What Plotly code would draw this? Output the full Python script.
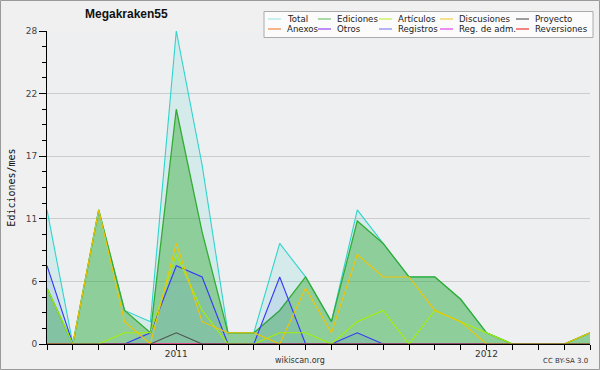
import plotly.graph_objects as go

# ---------------- data ----------------
months = ['2010-08', '2010-09', '2010-10', '2010-11', '2010-12', '2011-01', '2011-02',
          '2011-03', '2011-04', '2011-05', '2011-06', '2011-07', '2011-08', '2011-09',
          '2011-10', '2011-11', '2011-12', '2012-01', '2012-02', '2012-03', '2012-04',
          '2012-05']
tick_text = ['' if not m.endswith('-01') else m[:4] for m in months]

total       = [12, 0, 12, 3, 2, 28, 16, 1, 1, 9, 6, 2, 12, 9, 6, 6, 4, 1, 0, 0, 0, 1]
ediciones   = [5, 0, 12, 3, 1, 21, 10, 1, 1, 3, 6, 2, 11, 9, 6, 6, 4, 1, 0, 0, 0, 1]
articulos   = [5, 0, 0, 1, 1, 8, 3, 0, 0, 1, 1, 0, 2, 3, 0, 3, 2, 1, 0, 0, 0, 0]
discusiones = [0, 0, 12, 2, 0, 9, 2, 1, 1, 0, 5, 1, 8, 6, 6, 3, 2, 0, 0, 0, 0, 1]
proyecto    = [0, 0, 0, 0, 0, 1, 0, 0, 0, 0, 0, 0, 0, 0, 0, 0, 0, 0, 0, 0, 0, 0]
anexos      = [0] * 22
otros       = [0] * 22
registros   = [7, 0, 0, 0, 1, 7, 6, 0, 0, 6, 0, 0, 1, 0, 0, 0, 0, 0, 0, 0, 0, 0]
reg_adm     = [0] * 22
reversiones = [0] * 22

y_tickvals = [0, 5.6, 11.2, 16.8, 22.4, 28]
y_ticktext = ['0', '6', '11', '17', '22', '28']

legend_names = ['Total', 'Ediciones', 'Artículos', 'Discusiones', 'Proyecto',
                'Anexos', 'Otros', 'Registros', 'Reg. de adm.', 'Reversiones']
legend_colors = ['#a6e8e6', '#74c474', '#c4f040', '#f2d040', '#606060',
                 '#f08844', '#9444f0', '#8484f4', '#e444f0', '#f03434']

# ---------------- figure ----------------
W, H = 600, 370
L, R, T, B = 47, 10, 31, 26
PW, PH = W - L - R, H - T - B


def px(p):
    return (p - L) / PW


def py(q):
    return (H - B - q) / PH


fig = go.Figure()

fig.add_trace(go.Scatter(x=months, y=total, name='Total', mode='lines',
                         line=dict(color='#30d4cc', width=1.1),
                         fill='tozeroy', fillcolor='rgba(48,208,200,0.13)'))
fig.add_trace(go.Scatter(x=months, y=ediciones, name='Ediciones', mode='lines',
                         line=dict(color='#34ac34', width=1.3),
                         fill='tozeroy', fillcolor='rgba(48,168,48,0.43)'))
fig.add_trace(go.Scatter(x=months, y=registros, name='Registros', mode='lines',
                         line=dict(color='#3838f4', width=1.1),
                         fill='tozeroy', fillcolor='rgba(40,90,230,0.10)'))
for name, vals, col in [('Anexos', anexos, '#f08844'), ('Otros', otros, '#9444f0'),
                        ('Reg. de adm.', reg_adm, '#e444f0'),
                        ('Reversiones', reversiones, '#f03434'),
                        ('Artículos', articulos, '#a4f000'),
                        ('Discusiones', discusiones, '#f2c400'),
                        ('Proyecto', proyecto, '#505050')]:
    fig.add_trace(go.Scatter(x=months, y=vals, name=name, mode='lines',
                             line=dict(color=col, width=1.1)))

shapes = []
annotations = []

# legend box
shapes.append(dict(type='rect', xref='paper', yref='paper',
                   x0=px(264), x1=px(593), y0=py(37.5), y1=py(11.5),
                   fillcolor='#fbfbfb', line=dict(color='#aaaaaa', width=1),
                   layer='above'))
col_x = [285, 335, 396, 457, 533]
row_y = [19, 29]
for i, (nm, c) in enumerate(zip(legend_names, legend_colors)):
    tx = col_x[i % 5]
    ty = row_y[i // 5]
    shapes.append(dict(type='line', xref='paper', yref='paper',
                       x0=px(tx - 17), x1=px(tx - 4), y0=py(ty), y1=py(ty),
                       line=dict(color=c, width=1.2), layer='above'))
    annotations.append(dict(text=nm, xref='paper', yref='paper', x=px(tx), y=py(ty),
                            xanchor='left', yanchor='middle', showarrow=False,
                            font=dict(family='DejaVu Sans', size=8.6, color='#222222')))

# outer frame
shapes.append(dict(type='rect', xref='paper', yref='paper',
                   x0=px(0.5), x1=px(599.5), y0=py(369.5), y1=py(0.5),
                   line=dict(color='#9a9a9a', width=1), fillcolor='rgba(0,0,0,0)',
                   layer='above'))

annotations.append(dict(text='wikiscan.org', xref='paper', yref='paper',
                        x=px(300), y=py(360), xanchor='center', yanchor='middle',
                        showarrow=False,
                        font=dict(family='DejaVu Sans', size=8, color='#333333')))
annotations.append(dict(text='CC BY-SA 3.0', xref='paper', yref='paper',
                        x=px(590), y=py(361), xanchor='right', yanchor='middle',
                        showarrow=False,
                        font=dict(family='DejaVu Sans', size=7, color='#333333')))

fig.update_layout(
    width=W, height=H,
    margin=dict(l=L, r=R, t=T, b=B, pad=0, autoexpand=False),
    paper_bgcolor='#f0f0f0', plot_bgcolor='#eeeff1',
    font=dict(family='DejaVu Sans', size=9, color='#333333'),
    showlegend=False,
    title=dict(text='Megakraken55', x=85 / W, xref='container', xanchor='left',
               y=1 - 14 / H, yref='container', yanchor='middle',
               font=dict(family='Liberation Sans', size=12, weight='bold',
                         color='#111111')),
    shapes=shapes, annotations=annotations,
    xaxis=dict(type='category', range=[0, len(months) - 1], automargin=False,
               tickmode='array', tickvals=months, ticktext=tick_text,
               ticks='outside', ticklen=5, tickcolor='#000000', tickwidth=1,
               ticklabelstandoff=-4,
               showline=True, linecolor='#000000', linewidth=1,
               showgrid=False, zeroline=False, fixedrange=True,
               tickfont=dict(family='DejaVu Sans', size=9, color='#333333')),
    yaxis=dict(range=[0, 28], tickmode='array', tickvals=y_tickvals,
               ticktext=y_ticktext, ticks='outside', ticklen=7, automargin=False,
               tickcolor='#000000', tickwidth=1,
               minor=dict(tickmode='linear', tick0=0, dtick=1.4, ticks='outside',
                          ticklen=4, tickcolor='#000000', showgrid=False),
               showline=True, linecolor='#000000', linewidth=1,
               showgrid=True, gridcolor='#cccccc', gridwidth=1,
               zeroline=False, fixedrange=True,
               tickfont=dict(family='DejaVu Sans', size=9, color='#444444'),
               title=dict(text='Ediciones/mes', standoff=8,
                          font=dict(family='DejaVu Sans Mono', size=10,
                                    color='#111111'))),
)

fig.write_html('out.html',
               config={'displayModeBar': False},
               post_script="document.body.style.margin='0';document.body.style.padding='0';")
